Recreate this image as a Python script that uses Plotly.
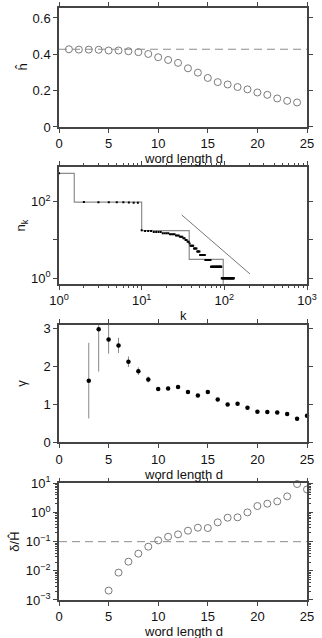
import plotly.graph_objects as go

# ---- panel 1: entropy rate estimate vs word length
d_h = list(range(1, 25))
h_hat = [0.428, 0.426, 0.426, 0.425, 0.421, 0.421, 0.417, 0.412, 0.402, 0.384,
         0.369, 0.353, 0.323, 0.299, 0.270, 0.247, 0.234, 0.220, 0.207, 0.190,
         0.177, 0.157, 0.144, 0.135]
h_ref = 0.428

# ---- panel 2: rank-frequency n_k
k_rank = list(range(1, 131))
n_k = [550, 98, 97, 97, 96, 96, 95, 94, 93,
       18, 17, 17, 17, 16, 16, 16, 16, 15, 15, 15, 15, 14,
       14, 14, 14, 13, 13, 13, 12, 12, 12, 11, 11,
       10, 10, 9, 9, 8,
       7, 7, 7, 7,
       6, 6, 6, 6,
       5, 5, 5, 5,
       4, 4, 4, 4, 4, 4, 4, 4,
       3, 3, 3, 3, 3, 3, 3, 3, 3, 3,
       2, 2, 2, 2, 2, 2, 2, 2, 2, 2, 2, 2, 2, 2, 2, 2, 2, 2, 2, 2, 2, 2, 2, 2,
       1, 1, 1, 1, 1, 1, 1, 1, 1, 1, 1, 1, 1, 1, 1, 1, 1, 1, 1,
       1, 1, 1, 1, 1, 1, 1, 1, 1, 1, 1, 1, 1, 1, 1, 1, 1, 1, 1]
step_k = [1, 1.53, 10, 37.6, 97]
step_n = [550, 97, 17.5, 3.1, 0.3]
pl_k = [30.5, 204]
pl_n = [45, 1.29]

# ---- panel 3: exponent gamma with error bars
d_g = list(range(3, 26))
gamma = [1.63, 2.99, 2.72, 2.56, 2.13, 1.88, 1.66, 1.41, 1.42, 1.46, 1.33, 1.24,
         1.33, 1.13, 1.00, 1.02, 0.91, 0.81, 0.80, 0.79, 0.75, 0.62, 0.70]
gamma_err = [1.0, 1.12, 0.38, 0.2, 0.14, 0.1, 0.08, 0.04, 0.04, 0.04, 0.04, 0.04,
             0.05, 0.04, 0.03, 0.03, 0.03, 0.03, 0.03, 0.03, 0.03, 0.03, 0.03]

# ---- panel 4: relative error delta / H
d_r = list(range(5, 26))
rel_err = [0.0021, 0.0087, 0.0206, 0.0388, 0.0674, 0.111, 0.148, 0.178, 0.238,
           0.302, 0.294, 0.46, 0.665, 0.683, 1.01, 1.67, 2.01, 2.41, 3.58, 9.5, 6.2]
rel_ref = 0.1

GRAY = "#7a7a7a"
AXIS = "#444444"
FONT = dict(family="Liberation Sans, Arial, sans-serif", size=13, color="#111")

fig = go.Figure()

fig.add_trace(go.Scatter(x=d_h, y=h_hat, mode="markers", xaxis="x", yaxis="y",
                         marker=dict(symbol="circle-open", size=7, color=GRAY,
                                     line=dict(width=1, color=GRAY)),
                         cliponaxis=False))

fig.add_trace(go.Scatter(x=step_k, y=step_n, mode="lines", line_shape="hv",
                         xaxis="x2", yaxis="y2", line=dict(color="#8c8c8c", width=1.2)))
fig.add_trace(go.Scatter(x=pl_k, y=pl_n, mode="lines", xaxis="x2", yaxis="y2",
                         line=dict(color="#777", width=1)))
fig.add_trace(go.Scatter(x=k_rank, y=n_k, mode="markers", xaxis="x2", yaxis="y2",
                         marker=dict(symbol="square", size=2, color="black")))

fig.add_trace(go.Scatter(x=d_g, y=gamma, mode="markers", xaxis="x3", yaxis="y3",
                         marker=dict(size=0.1, color="rgba(0,0,0,0)"),
                         error_y=dict(type="data", array=gamma_err, color="#888",
                                      thickness=1, width=0)))
fig.add_trace(go.Scatter(x=d_g, y=gamma, mode="markers", xaxis="x3", yaxis="y3",
                         marker=dict(size=4.5, color="black"), cliponaxis=False))

fig.add_trace(go.Scatter(x=d_r, y=rel_err, mode="markers", xaxis="x4", yaxis="y4",
                         marker=dict(symbol="circle-open", size=7, color=GRAY,
                                     line=dict(width=1, color=GRAY)),
                         cliponaxis=False))

fig.add_hline(y=h_ref, line=dict(color="#8c8c8c", width=1, dash="8px,5px"),
              xref="x", yref="y")
fig.add_hline(y=rel_ref, line=dict(color="#8c8c8c", width=1, dash="8px,5px"),
              xref="x4", yref="y4")

common = dict(showline=True, linecolor=AXIS, linewidth=1.5, mirror="ticks",
              ticks="outside", ticklen=4, tickcolor=AXIS, showgrid=False,
              zeroline=False, tickfont=FONT, automargin=False)

def sup(p):
    return "10<sup>%s</sup>" % str(p).replace("-", "\u2212")

log_minor = [m * 10 ** e for e in range(-3, 3) for m in range(2, 10)]

fig.update_layout(
    width=322, height=638,
    margin=dict(l=59, r=15, t=8, b=38),
    plot_bgcolor="white", paper_bgcolor="white",
    font=FONT, showlegend=False,
    xaxis=dict(common, domain=[0, 1], range=[0, 25], dtick=5, anchor="y"),
    yaxis=dict(common, domain=[0.799, 1], range=[0, 0.655], dtick=0.2, anchor="x"),
    xaxis2=dict(common, domain=[0, 1], type="log", range=[0, 3], anchor="y2",
                tickvals=[1, 10, 100, 1000], ticktext=[sup(0), sup(1), sup(2), sup(3)],
                minor=dict(ticks="outside", ticklen=2, tickcolor=AXIS, tickvals=log_minor)),
    yaxis2=dict(common, domain=[0.534, 0.731], type="log", range=[-0.15, 2.9], anchor="x2",
                tickvals=[1, 10, 100], ticktext=[sup(0), "", sup(2)]),
    xaxis3=dict(common, domain=[0, 1], range=[0, 25], dtick=5, anchor="y3"),
    yaxis3=dict(common, domain=[0.2664, 0.4645], range=[0, 3.1], dtick=1, anchor="x3"),
    xaxis4=dict(common, domain=[0, 1], range=[0, 25], dtick=5, anchor="y4"),
    yaxis4=dict(common, domain=[0, 0.197], type="log", range=[-3, 1], anchor="x4",
                tickvals=[0.001, 0.01, 0.1, 1, 10],
                ticktext=[sup(-3), sup(-2), sup(-1), sup(0), sup(1)],
                minor=dict(ticks="outside", ticklen=2, tickcolor=AXIS, tickvals=log_minor)),
)

# axis titles as annotations, so they sit where the reference puts them
x_titles = [("x", "y", "word length d", -32), ("x2", "y2", "k", -32),
            ("x3", "y3", "word length d", -32), ("x4", "y4", "word length d", -31)]
for xa, ya, text, shift in x_titles:
    fig.add_annotation(text=text, xref=xa + " domain", yref=ya + " domain", x=0.5, y=0,
                       yshift=shift, showarrow=False, yanchor="middle", font=FONT)

y_titles = [("x", "y", "ĥ", -37), ("x2", "y2", "n<sub>k</sub>", -37),
            ("x3", "y3", "γ", -37), ("x4", "y4", "δ/Ĥ", -44)]
for xa, ya, text, shift in y_titles:
    fig.add_annotation(text=text, xref=xa + " domain", yref=ya + " domain", x=0, y=0.5,
                       xshift=shift, showarrow=False, xanchor="center", textangle=-90,
                       font=FONT)

fig.write_html("out.html", config={"displayModeBar": False},
               post_script="document.body.style.margin='0';")
